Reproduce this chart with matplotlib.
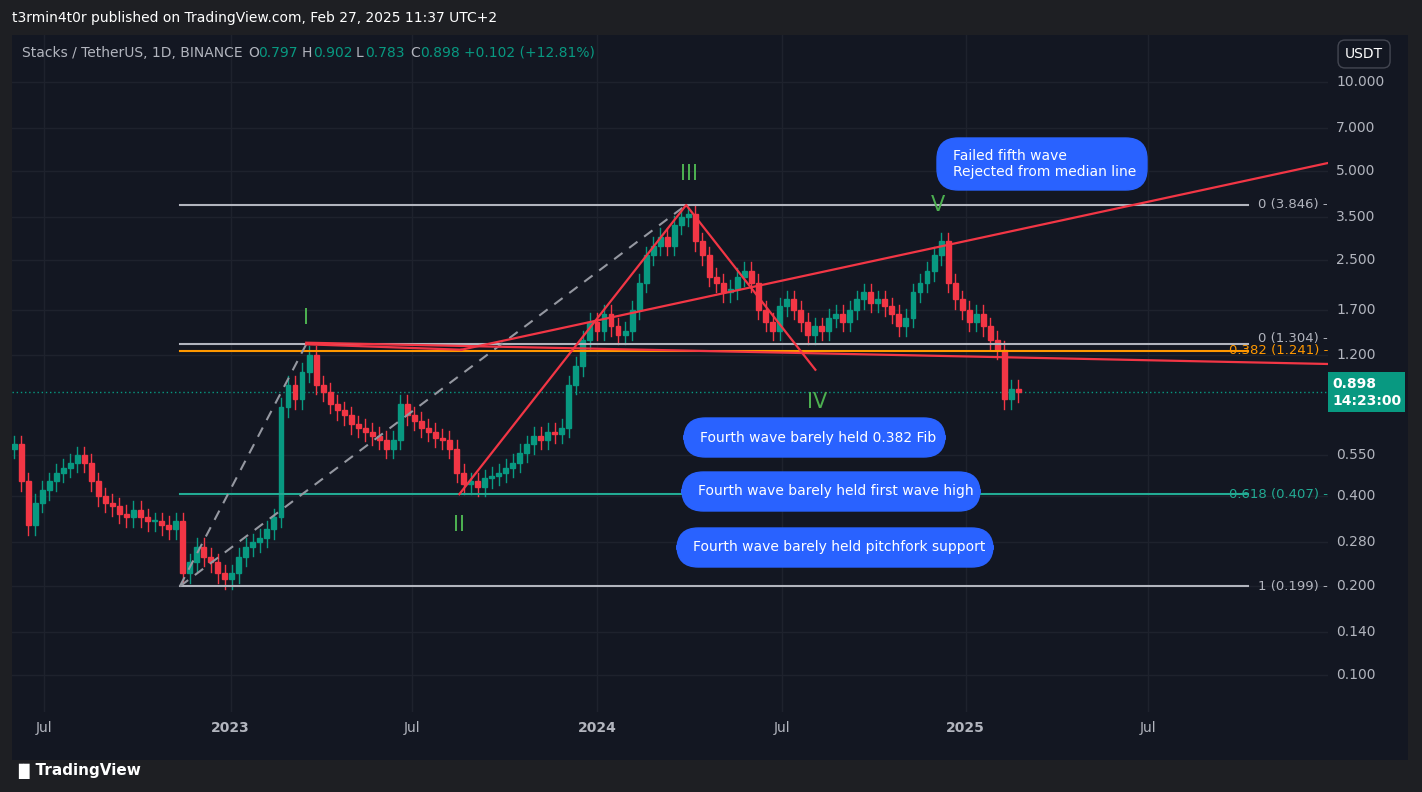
import matplotlib
matplotlib.use("Agg")
import matplotlib.pyplot as plt
from matplotlib.patches import FancyBboxPatch, Rectangle
import matplotlib.transforms as mt

W, H = 1422, 792
closes = [0.60,0.45,0.32,0.38,0.42,0.45,0.48,0.50,0.52,0.55,0.52,0.45,0.40,0.38,0.37,0.35,0.34,0.36,0.34,0.33,
          0.33,0.32,0.31,0.33,0.22,0.24,0.27,0.25,0.24,0.22,0.21,0.22,0.25,0.27,0.28,0.29,0.31,0.34,0.80,0.95,
          0.85,1.05,1.20,0.95,0.90,0.82,0.78,0.75,0.70,0.68,0.66,0.64,0.62,0.58,0.62,0.82,0.75,0.72,0.68,0.66,
          0.63,0.62,0.58,0.48,0.44,0.45,0.43,0.46,0.47,0.48,0.50,0.52,0.56,0.60,0.64,0.62,0.66,0.65,0.68,0.95,
          1.10,1.35,1.55,1.45,1.65,1.50,1.40,1.45,1.70,2.10,2.60,2.80,3.00,2.80,3.30,3.50,3.60,2.90,2.60,2.20,
          2.10,1.95,2.00,2.20,2.30,2.10,1.70,1.55,1.45,1.75,1.85,1.70,1.55,1.40,1.50,1.45,1.60,1.65,1.55,1.70,
          1.85,1.95,1.80,1.85,1.75,1.65,1.50,1.60,1.95,2.10,2.30,2.60,2.90,2.10,1.85,1.70,1.55,1.65,1.50,1.35,
          1.25,0.85,0.92,0.898]
first_open = 0.58
fib_levels = [3.846, 1.304, 1.241, 0.407, 0.199]
fib_labels = ["0 (3.846)", "0 (1.304)", "0.382 (1.241)", "0.618 (0.407)", "1 (0.199)"]
fib_colors = ["#b2b5be", "#b2b5be", "#ff9800", "#22ab94", "#b2b5be"]
price_ticks = [10.0, 7.0, 5.0, 3.5, 2.5, 1.7, 1.2, 0.55, 0.4, 0.28, 0.2, 0.14, 0.1]
x_tick_pos = [4.26, 30.85, 56.6, 83.0, 109.3, 135.5, 161.4]
x_tick_lab = ["Jul", "2023", "Jul", "2024", "Jul", "2025", "Jul"]
wave_w = [63.4, 95.7, 114.1]
wave_p = [0.407, 3.846, 1.07]
dash1_w, dash1_p = [23.6, 41.6], [0.199, 1.304]
dash2_w, dash2_p = [23.6, 95.7], [0.199, 3.846]
median_w, median_p = [63.7, 187.1], [1.25, 5.33]
lower_w, lower_p = [41.6, 187.1], [1.32, 1.119]
lower2_w, lower2_p = [41.6, 63.7], [1.304, 1.25]
wave_lbl = [("I", 41.6, 1.6), ("II", 63.4, 0.32), ("III", 96.1, 4.9), ("IV", 114.3, 0.83), ("V", 131.6, 3.846)]

BG = "#131722"
fig = plt.figure(figsize=(W/100, H/100), dpi=100, facecolor="#1e1f23")
bgax = fig.add_axes([12/W, 1-760/H, 1396/W, 725/H], zorder=-5)
bgax.set_facecolor(BG); bgax.set_xticks([]); bgax.set_yticks([])
for s in bgax.spines.values():
    s.set_visible(False)
ax = fig.add_axes([12/W, 1-712/H, 1316/W, 677/H], zorder=1)
ax.set_facecolor(BG)
ax.set_yscale("log")
ax.set_ylim(0.075, 14.4)
ax.set_xlim(-0.3, 187.1)
for s in ax.spines.values():
    s.set_visible(False)
ax.set_xticks([]); ax.set_yticks([])
ax.yaxis.set_minor_locator(matplotlib.ticker.NullLocator())
for p in price_ticks:
    ax.axhline(p, color="#1e222d", lw=1, zorder=0)
for xp in x_tick_pos:
    ax.axvline(xp, color="#1e222d", lw=1, zorder=0)

prev = first_open
for i, c in enumerate(closes):
    o = prev
    col = "#089981" if c >= o else "#f23645"
    hi, lo = max(o, c)*1.07, min(o, c)*0.93
    ax.plot([i, i], [lo, hi], color=col, lw=1, zorder=2)
    ax.add_patch(Rectangle((i-0.35, min(o, c)), 0.7, abs(c-o) or 0.002, color=col, zorder=3))
    prev = c

yt = mt.blended_transform_factory(ax.transAxes, ax.transData)
for lv, lb, cl in zip(fib_levels, fib_labels, fib_colors):
    ax.plot([23.6, 175.7], [lv, lv], color=cl, lw=1.5, zorder=4)
    ax.text(1.0, lv*(1.045 if lb == "0 (1.304)" else 1.0), lb + " -", color=cl, fontsize=9.5,
            ha="right", va="center", transform=yt, zorder=6 if cl != "#b2b5be" else 5)

ax.plot(dash1_w, dash1_p, color="#9598a1", lw=1.5, ls=(0, (5, 4)), zorder=4)
ax.plot(dash2_w, dash2_p, color="#9598a1", lw=1.5, ls=(0, (5, 4)), zorder=4)
for ws, ps in [(wave_w, wave_p), (median_w, median_p), (lower_w, lower_p), (lower2_w, lower2_p)]:
    ax.plot(ws, ps, color="#f23645", lw=1.6, zorder=5)
ax.axhline(closes[-1], color="#089981", lw=1, ls=(0, (1, 2)), zorder=1)
for t, w, p in wave_lbl:
    ax.text(w, p, t, color="#4caf50", fontsize=15, ha="center", va="center", zorder=6)

def box(x0, y0, x1, y1, text):
    fig.patches.append(FancyBboxPatch((x0/W, 1-y1/H), (x1-x0)/W, (y1-y0)/H,
        boxstyle="round,pad=0,rounding_size=0.015", transform=fig.transFigure,
        color="#2962ff", zorder=7, mutation_aspect=W/H))
    fig.text((x0+16)/W, 1-(y0+y1)/2/H, text, color="white", fontsize=10, va="center", zorder=8,
             linespacing=1.1)
box(937, 138, 1147, 190, "Failed fifth wave\nRejected from median line")
box(684, 418, 945, 457, "Fourth wave barely held 0.382 Fib")
box(682, 472, 980, 511, "Fourth wave barely held first wave high")
box(677, 528, 993, 567, "Fourth wave barely held pitchfork support")

for p in price_ticks:
    ax.text(1.0 + 8/1316, p, f"{p:.3f}", color="#b2b5be", fontsize=10, va="center", transform=yt, clip_on=False)
for xp, lb in zip(x_tick_pos, x_tick_lab):
    ax.text(xp, 0.066, lb, color="#b2b5be", fontsize=10, ha="center", va="center",
            fontweight="bold" if lb.isdigit() else "normal", clip_on=False)
ax.text(1.0 + 4/1316, closes[-1], "0.898\n14:23:00", color="white", fontsize=10, fontweight="bold",
        va="center", transform=yt, linespacing=1.3, clip_on=False,
        bbox=dict(boxstyle="square,pad=0.3", fc="#089981", ec="none"))
fig.text(1345/W, 1-54/H, "USDT", color="white", fontsize=10, va="center",
         bbox=dict(boxstyle="round,pad=0.5", fc=BG, ec="#434651"))
fig.text(12/W, 1-18/H, "t3rmin4t0r published on TradingView.com, Feb 27, 2025 11:37 UTC+2",
         color="white", fontsize=10, va="center")
fig.text(22/W, 1-53/H, "Stacks / TetherUS, 1D, BINANCE", color="#b2b5be", fontsize=10, va="center")
hdr = [("O", 248), ("0.797", 258), ("H", 302), ("0.902", 313), ("L", 356), ("0.783", 365), ("C", 410), ("0.898", 420)]
for t, xp in hdr:
    fig.text(xp/W, 1-53/H, t, color="#b2b5be" if len(t) == 1 else "#089981", fontsize=10, va="center")
fig.text(464/W, 1-53/H, "+0.102 (+12.81%)", color="#089981", fontsize=10, va="center")
fig.text(12/W, 1-771/H, "\u2590\u258cTradingView", color="white", fontsize=11, fontweight="bold", va="center")
fig.savefig("out.png", dpi=100, facecolor=fig.get_facecolor())
